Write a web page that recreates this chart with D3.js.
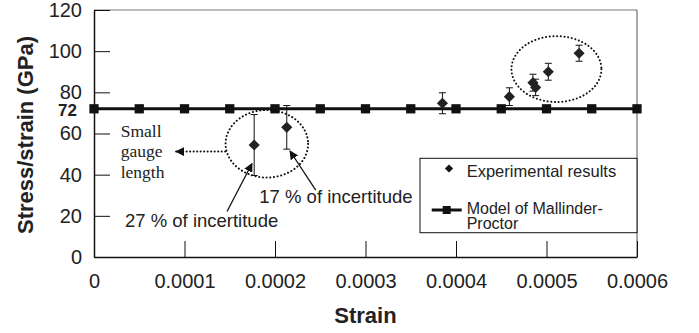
<!DOCTYPE html>
<html>
<head>
<meta charset="utf-8">
<script src="https://cdn.jsdelivr.net/npm/d3@7"></script>
<style>
  body { margin: 0; background: #fff; }
  svg { display: block; font-family: "Liberation Sans", Arial, sans-serif; }
</style>
</head>
<body>
<div id="chart"></div>
<script>
// data
const modelStrain = [0, 0.00005, 0.0001, 0.00015, 0.0002, 0.00025, 0.0003, 0.00035, 0.0004, 0.00045, 0.0005, 0.00055, 0.0006];
const modelValue = [72, 72, 72, 72, 72, 72, 72, 72, 72, 72, 72, 72, 72];

const expStrain = [0.000177, 0.000213, 0.000385, 0.000459, 0.000485, 0.000488, 0.000502, 0.000536];
const expValue = [54.4, 63.0, 74.7, 77.9, 84.7, 82.4, 90.0, 99.0];
const expError = [14.8, 10.6, 5.1, 4.3, 4.1, 4.0, 4.1, 3.9];

const xTicks = [0, 0.0001, 0.0002, 0.0003, 0.0004, 0.0005, 0.0006];
const yTicks = [0, 20, 40, 60, 80, 100, 120];

const W = 699, H = 333;
const plot = { left: 94, right: 637, top: 10, bottom: 257 };

const svg = d3.select("#chart").append("svg")
    .attr("width", W)
    .attr("height", H);

const x = d3.scaleLinear().domain([0, 0.0006]).range([plot.left, plot.right]);
const y = d3.scaleLinear().domain([0, 120]).range([plot.bottom, plot.top]);

// frame (top + right in grey)
svg.append("line")
    .attr("x1", plot.left).attr("x2", plot.right)
    .attr("y1", plot.top).attr("y2", plot.top)
    .attr("stroke", "#777").attr("stroke-width", 1);
svg.append("line")
    .attr("x1", plot.right).attr("x2", plot.right)
    .attr("y1", plot.top).attr("y2", plot.bottom)
    .attr("stroke", "#555").attr("stroke-width", 1);

// axes
const yAxis = svg.append("g")
    .attr("transform", `translate(${plot.left},0)`)
    .call(d3.axisLeft(y).tickValues(yTicks).tickSize(-16).tickSizeOuter(0).tickPadding(12));

const xAxis = svg.append("g")
    .attr("transform", `translate(0,${plot.bottom})`)
    .call(d3.axisBottom(x).tickValues(xTicks).tickSize(-16).tickSizeOuter(0).tickPadding(17)
        .tickFormat(d => d === 0 ? "0" : d.toFixed(4)));

[xAxis, yAxis].forEach(g => {
    g.attr("font-family", null).attr("font-size", null);
    g.select(".domain").attr("stroke", "#111").attr("stroke-width", 1.5);
    g.selectAll(".tick line").attr("stroke", "#111").attr("stroke-width", 1);
    g.selectAll(".tick text")
        .style("font-size", "20px")
        .attr("fill", "#222");
});

// bold 72 label
svg.append("text")
    .attr("x", plot.left - 17)
    .attr("y", y(modelValue[0]) + 1)
    .attr("dy", "0.35em")
    .attr("text-anchor", "end")
    .style("font-size", "17px")
    .style("font-weight", "bold")
    .attr("fill", "#222")
    .text(modelValue[0]);

// axis titles
svg.append("text")
    .attr("x", (plot.left + plot.right) / 2)
    .attr("y", 323)
    .attr("text-anchor", "middle")
    .style("font-size", "22px")
    .style("font-weight", "bold")
    .attr("fill", "#222")
    .text("Strain");

svg.append("text")
    .attr("transform", `translate(33,135) rotate(-90)`)
    .attr("text-anchor", "middle")
    .style("font-size", "22px")
    .style("font-weight", "bold")
    .attr("fill", "#222")
    .text("Stress/strain (GPa)");

// model of Mallinder-Proctor
const model = modelStrain.map((s, i) => [s, modelValue[i]]);
svg.append("path")
    .datum(model)
    .attr("fill", "none")
    .attr("stroke", "#111")
    .attr("stroke-width", 3)
    .attr("d", d3.line().x(d => x(d[0])).y(d => y(d[1])));

svg.selectAll(".sq")
    .data(model)
    .join("path")
    .attr("class", "sq")
    .attr("transform", d => `translate(${x(d[0])},${y(d[1])})`)
    .attr("d", d3.symbol(d3.symbolSquare, 86))
    .attr("fill", "#111");

// experimental results with error bars
const exp = expStrain.map((s, i) => ({ s, v: expValue[i], e: expError[i] }));
const bars = svg.selectAll(".err")
    .data(exp)
    .join("g")
    .attr("class", "err")
    .attr("stroke", "#111")
    .attr("stroke-width", 1);
bars.append("line")
    .attr("x1", d => x(d.s)).attr("x2", d => x(d.s))
    .attr("y1", d => y(d.v - d.e)).attr("y2", d => y(d.v + d.e));
bars.append("line")
    .attr("x1", d => x(d.s) - 3.5).attr("x2", d => x(d.s) + 3.5)
    .attr("y1", d => y(d.v + d.e)).attr("y2", d => y(d.v + d.e));
bars.append("line")
    .attr("x1", d => x(d.s) - 3.5).attr("x2", d => x(d.s) + 3.5)
    .attr("y1", d => y(d.v - d.e)).attr("y2", d => y(d.v - d.e));

svg.selectAll(".dia")
    .data(exp)
    .join("path")
    .attr("class", "dia")
    .attr("transform", d => `translate(${x(d.s)},${y(d.v)}) rotate(45)`)
    .attr("d", d3.symbol(d3.symbolSquare, 62))
    .attr("fill", "#222");

// annotations (dotted ellipses, arrows, notes)
svg.append("defs").append("marker")
    .attr("id", "head")
    .attr("viewBox", "0 0 10 10")
    .attr("refX", 9).attr("refY", 5)
    .attr("markerWidth", 9).attr("markerHeight", 9)
    .attr("markerUnits", "userSpaceOnUse")
    .attr("orient", "auto")
    .append("path")
    .attr("d", "M0,0L10,5L0,10z")
    .attr("fill", "#111");

function dottedEllipse(cx, cy, rxData, ryData) {
    svg.append("ellipse")
        .attr("cx", x(cx)).attr("cy", y(cy))
        .attr("rx", x(cx + rxData) - x(cx))
        .attr("ry", y(cy) - y(cy + ryData))
        .attr("fill", "none")
        .attr("stroke", "#111")
        .attr("stroke-width", 2)
        .attr("stroke-linecap", "round")
        .attr("stroke-dasharray", "0.1 3.6");
}
dottedEllipse(0.000191, 55.0, 0.0000456, 16.4);
dottedEllipse(0.000511, 91.3, 0.0000497, 16.0);

// dotted arrow toward "Small gauge length"
svg.append("line")
    .attr("x1", x(0.000145)).attr("y1", y(51.2))
    .attr("x2", x(0.0000906)).attr("y2", y(51.2))
    .attr("stroke", "#111")
    .attr("stroke-width", 2)
    .attr("stroke-linecap", "round")
    .attr("stroke-dasharray", "0.1 3.4")
    .attr("marker-end", "url(#head)");

function arrow(x1, y1, x2, y2) {
    svg.append("line")
        .attr("x1", x(x1)).attr("y1", y(y1))
        .attr("x2", x(x2)).attr("y2", y(y2))
        .attr("stroke", "#111")
        .attr("stroke-width", 1.3)
        .attr("marker-end", "url(#head)");
}
arrow(0.000147, 22.1, 0.0001746, 45.4);
arrow(0.000245, 32.5, 0.0002166, 51.5);

const note = svg.append("text")
    .attr("x", 120.7)
    .style("font-family", '"Liberation Serif", "Times New Roman", serif')
    .style("font-size", "17.5px")
    .attr("fill", "#222");
["Small", "gauge", "length"].forEach((t, i) => {
    note.append("tspan").attr("x", 120.7).attr("y", 136.7 + i * 20.6).text(t);
});

svg.append("text")
    .attr("x", 259.3).attr("y", 203.3)
    .style("font-size", "18.5px")
    .attr("fill", "#222")
    .text("17 % of incertitude");
svg.append("text")
    .attr("x", 125).attr("y", 226.7)
    .style("font-size", "18.5px")
    .attr("fill", "#222")
    .text("27 % of incertitude");

// legend
const legend = svg.append("g");
legend.append("rect")
    .attr("x", 420).attr("y", 158.3)
    .attr("width", plot.right - 420).attr("height", 74.4)
    .attr("fill", "#fff")
    .attr("stroke", "#111")
    .attr("stroke-width", 1);
legend.append("path")
    .attr("transform", "translate(449,168.5) rotate(45)")
    .attr("d", d3.symbol(d3.symbolSquare, 34))
    .attr("fill", "#111");
legend.append("text")
    .attr("x", 466.7).attr("y", 176.7)
    .style("font-size", "16.5px")
    .attr("fill", "#222")
    .text("Experimental results");
legend.append("line")
    .attr("x1", 431.7).attr("x2", 461.7)
    .attr("y1", 210).attr("y2", 210)
    .attr("stroke", "#111").attr("stroke-width", 3);
legend.append("path")
    .attr("transform", "translate(446.7,210)")
    .attr("d", d3.symbol(d3.symbolSquare, 64))
    .attr("fill", "#111");
const lt = legend.append("text")
    .style("font-size", "16px")
    .attr("fill", "#222");
lt.append("tspan").attr("x", 466.7).attr("y", 213.5).text("Model of Mallinder-");
lt.append("tspan").attr("x", 466.7).attr("y", 228.5).text("Proctor");
</script>
</body>
</html>
